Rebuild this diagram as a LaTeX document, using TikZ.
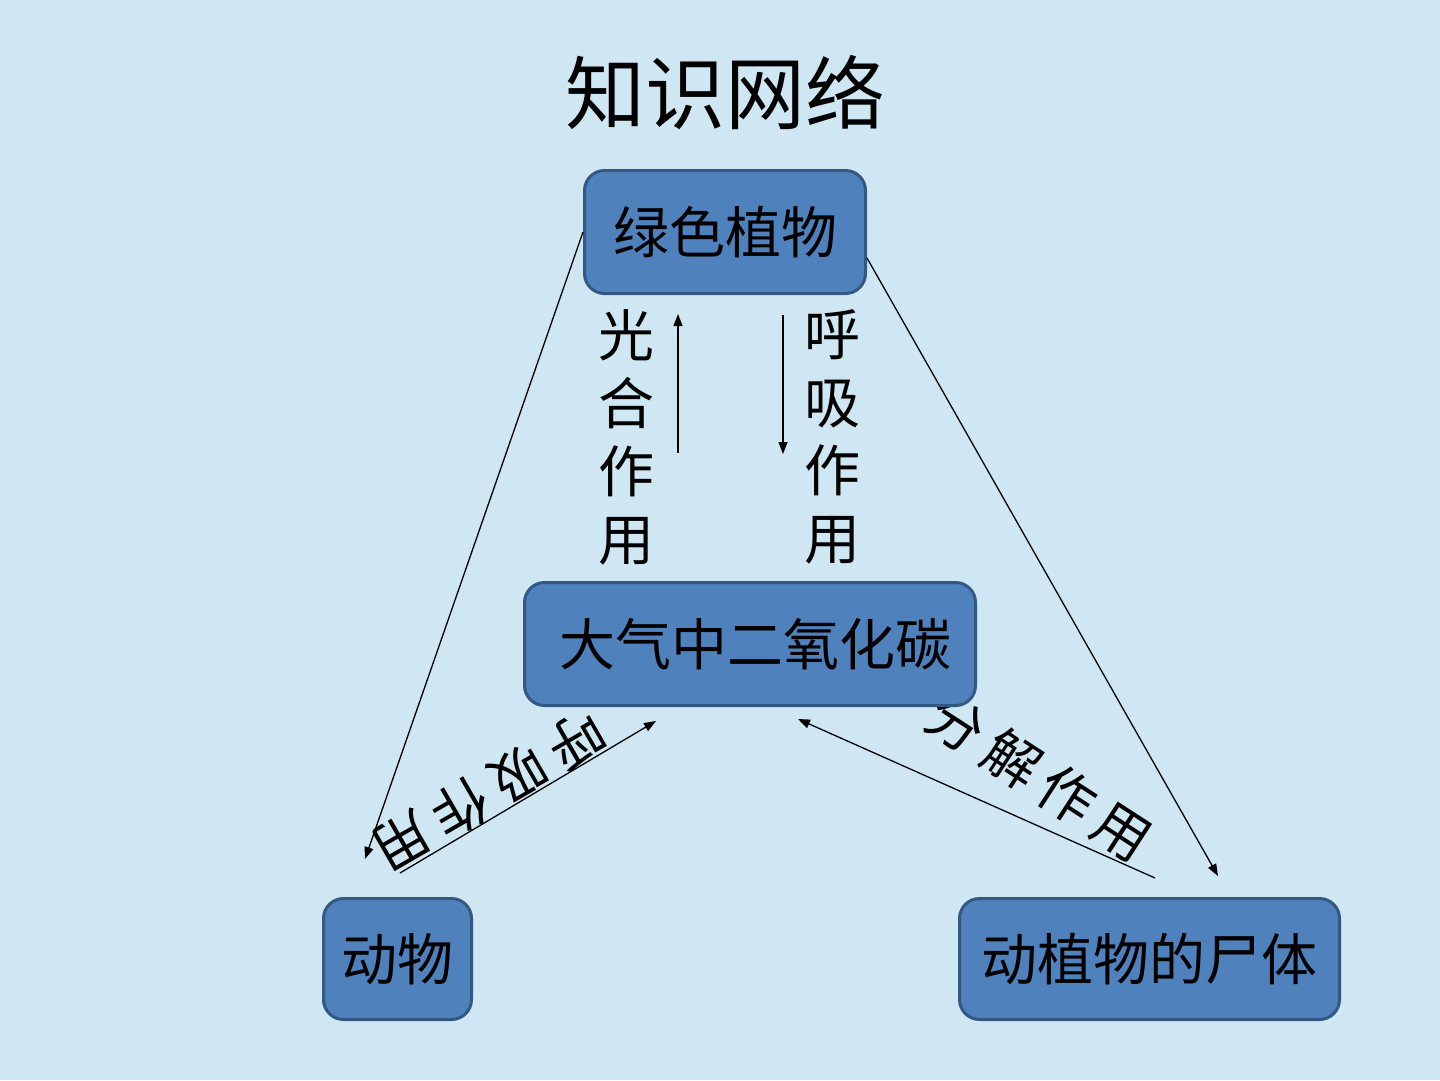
\documentclass[tikz,border=0pt]{standalone}
\usepackage{fontspec}
\newfontfamily\cjk{Noto Sans CJK SC}
\usetikzlibrary{arrows.meta}
\definecolor{bg}{RGB}{206,231,243}
\definecolor{boxfill}{RGB}{79,129,189}
\definecolor{boxline}{RGB}{52,88,132}
\begin{document}
\begin{tikzpicture}[x=1pt,y=-1pt,
  box/.style={draw=boxline, line width=3pt, fill=boxfill, rounded corners=20pt, inner sep=0pt,
    font=\cjk\fontsize{56}{67}\selectfont, text=black},
  lbl/.style={font=\cjk\fontsize{56}{68}\selectfont, inner sep=0pt, align=center},
  conn/.style={line width=1.3pt, -{Triangle[length=12pt,width=9pt]}}]
\useasboundingbox (0,0) rectangle (1440,1080);
\fill[bg] (0,0) rectangle (1440,1080);
\node[font=\cjk\fontsize{80}{90}\selectfont, inner sep=0pt] (title) at (725,93) {知识网络};
% rotated labels (under the boxes)
\node[lbl, rotate=210] (l1) at (490,791) {呼\hspace{11pt}吸\hspace{11pt}作\hspace{11pt}用};
\node[lbl, rotate=-33] (l2) at (1040,777) {分\hspace{10pt}解\hspace{10pt}作\hspace{10pt}用};
% boxes
\node[box, minimum width=281pt, minimum height=123pt] (gp) at (725,232) {绿色植物};
\node[box, minimum width=451pt, minimum height=123pt] (co2) at (750,644) {\hspace{10pt}大气中二氧化碳};
\node[box, minimum width=148pt, minimum height=121pt] (an) at (397.5,959) {动物};
\node[box, minimum width=380pt, minimum height=121pt] (rem) at (1149.5,959) {动植物的尸体};
% vertical labels
\node[lbl] (l3) at (626,437) {光\\合\\作\\用};
\node[lbl] (l4) at (832,437) {呼\\吸\\作\\用};
% free ends
\coordinate (a1) at (365,859);
\coordinate (b0) at (867,258);
\coordinate (b1) at (1218,876);
\coordinate (p0) at (678,453);
\coordinate (p1) at (678,314);
\coordinate (r0) at (783,315);
\coordinate (r1) at (783,454);
\coordinate (c0) at (400,873);
\coordinate (c1) at (656,721);
\coordinate (d0) at (1155,878);
\coordinate (d1) at (798,719);
% connectors
\draw[conn] (gp.west) -- (a1);
\draw[conn] (b0) -- (b1);
\draw[conn] (p0) -- (p1);
\draw[conn] (r0) -- (r1);
\draw[conn] (c0) -- (c1);
\draw[conn] (d0) -- (d1);
\end{tikzpicture}
\end{document}
